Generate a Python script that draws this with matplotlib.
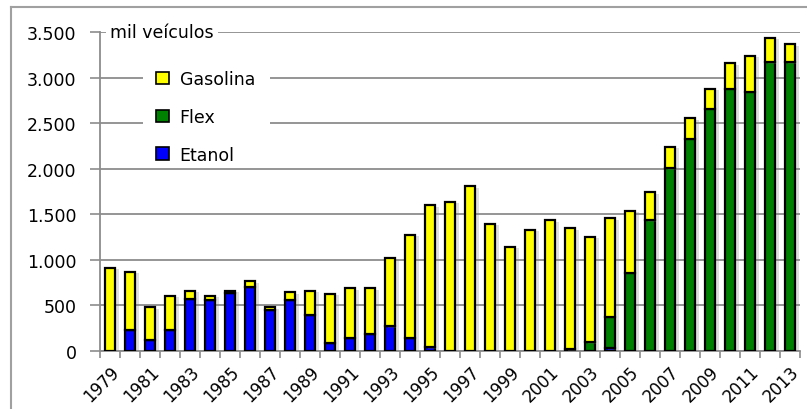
import matplotlib.pyplot as plt
import matplotlib.patheffects as pe
from matplotlib.patches import Patch
from matplotlib.lines import Line2D
import numpy as np

# Licenciamento de veículos leves por combustível (mil veículos)
anos = list(range(1979, 2014))
etanol = [0, 230, 122, 230, 576, 559, 641, 703, 451, 559, 395, 88, 143, 186, 272,
          143, 40, 0, 0, 0, 0, 0, 0, 20, 0, 30, 0, 0, 0, 0, 0, 0, 0, 0, 0]
flex = [0] * 24 + [95, 346, 855, 1436, 2006, 2325, 2654, 2880, 2843, 3167, 3169]
gasolina = [912, 642, 357, 375, 84, 46, 18, 63, 29, 86, 266, 537, 544, 501, 748,
            1129, 1557, 1634, 1809, 1396, 1144, 1327, 1433, 1325, 1155, 1079,
            684, 304, 234, 230, 226, 275, 395, 268, 197]

cor_gas = '#ffff00'
cor_flex = '#008000'
cor_etanol = '#0000ff'
cinza = '#8c8c8c'

fig = plt.figure(figsize=(8.07, 4.10), dpi=100)
ax = fig.add_axes([100 / 807, 58 / 410, 700 / 807, 319 / 410])

x = np.arange(len(anos))
sombra = [pe.SimplePatchShadow(offset=(2.5, -1), shadow_rgbFace='gray', alpha=0.25), pe.Normal()]
estilo = dict(width=0.52, edgecolor='black', linewidth=1.6, zorder=3, path_effects=sombra)

b_et = np.array(etanol)
b_fl = b_et + np.array(flex)
ax.bar(x, etanol, color=cor_etanol, **estilo)
ax.bar(x, flex, bottom=b_et, color=cor_flex, **estilo)
ax.bar(x, gasolina, bottom=b_fl, color=cor_gas, **estilo)

ax.set_xlim(-0.5, len(anos) - 0.5)
ax.set_ylim(0, 3500)
ax.set_yticks(range(0, 3501, 500))
ax.set_yticklabels([f'{v:,}'.replace(',', '.') for v in range(0, 3501, 500)], fontsize=12.5)
ax.yaxis.grid(True, color=cinza, linewidth=1.3, zorder=0)
ax.set_axisbelow(True)

# rótulos a cada dois anos, marcas entre as barras
ax.set_xticks(x[::2])
ax.set_xticklabels([str(a) for a in anos[::2]], rotation=45, ha='right',
                   rotation_mode='anchor', fontsize=12)
ax.tick_params(axis='x', length=0, pad=8)
ax.set_xticks(np.arange(len(anos) + 1) - 0.5, minor=True)
ax.tick_params(axis='x', which='minor', length=5, color=cinza, width=1.2)
ax.tick_params(axis='y', length=7, color=cinza, width=1.2, pad=10)

for s in ['top', 'right']:
    ax.spines[s].set_visible(False)
for s in ['left', 'bottom']:
    ax.spines[s].set_color(cinza)
    ax.spines[s].set_linewidth(1.3)

ax.text(0.014, 1.0, 'mil veículos', transform=ax.transAxes, fontsize=12.5,
        va='center', ha='left', zorder=5,
        bbox=dict(facecolor='white', edgecolor='none', pad=3))

# caixa branca da legenda
ax.add_patch(plt.Rectangle((0.061, 0.573), 0.182, 0.36, transform=ax.transAxes,
                           facecolor='white', edgecolor='none', zorder=1))
handles = [Patch(facecolor=cor_gas, edgecolor='black', linewidth=1.2, label='Gasolina'),
           Patch(facecolor=cor_flex, edgecolor='black', linewidth=1.2, label='Flex'),
           Patch(facecolor=cor_etanol, edgecolor='black', linewidth=1.2, label='Etanol')]
ax.legend(handles=handles, loc='upper left', bbox_to_anchor=(0.058, 0.93),
          frameon=False, fontsize=12.5, handlelength=0.75, handleheight=0.75,
          handletextpad=0.6, labelspacing=1.15)

# moldura externa
fig.add_artist(Line2D([11 / 807, 11 / 807], [0, 1 - 8 / 410], color='#a0a0a0', linewidth=1.5))
fig.add_artist(Line2D([11 / 807, 1], [1 - 8 / 410, 1 - 8 / 410], color='#a0a0a0', linewidth=1.5))

fig.savefig('out.png', dpi=100)
